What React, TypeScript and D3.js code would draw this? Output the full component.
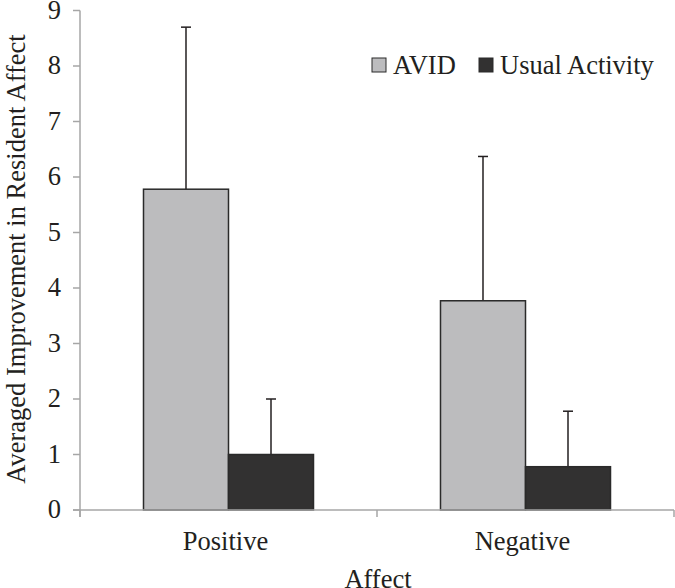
import * as d3 from "d3"

const categories = ["Positive", "Negative"]
const series = ["AVID", "Usual Activity"]
const avidMeans = [5.78, 3.77]
const avidErr = [2.92, 2.6]
const usualMeans = [1.0, 0.78]
const usualErr = [1.0, 1.0]
const yTicks = [0, 1, 2, 3, 4, 5, 6, 7, 8, 9]

const W = 675
const H = 588
const FONT = "'Liberation Serif', 'DejaVu Serif', serif"
const FS = 26.5
const colors = ["#bcbcbe", "#323131"]

export default function App() {
  const x0 = 80
  const x1 = 674
  const yTop = 10.5
  const yBot = 510

  const x = d3.scaleBand().domain(categories).range([x0, x1])
  const xs = d3.scaleBand().domain(series).range([0, x.bandwidth()]).paddingInner(0).paddingOuter(0.747)
  const y = d3.scaleLinear().domain([0, 9]).range([yBot, yTop])

  const bars = categories.flatMap((c, i) => [
    { cat: c, s: series[0], v: avidMeans[i], e: avidErr[i], fill: colors[0] },
    { cat: c, s: series[1], v: usualMeans[i], e: usualErr[i], fill: colors[1] },
  ])

  return (
    <div style={{ position: "fixed", left: 0, top: 0 }}>
      <svg width={W} height={H} style={{ display: "block" }}>
        <rect width={W} height={H} fill="#fff" />
        {/* y axis */}
        <line x1={x0} x2={x0} y1={yTop} y2={yBot + 7} stroke="#a6a6a6" strokeWidth={1.5} />
        {yTicks.map((t) => (
          <g key={t}>
            <line x1={x0 - 7} x2={x0} y1={y(t)} y2={y(t)} stroke="#a6a6a6" strokeWidth={1.5} />
            <text
              x={61}
              y={y(t) + 8}
              textAnchor="end"
              fontSize={FS}
              fontFamily={FONT}
              fill="#231f20"
            >
              {t}
            </text>
          </g>
        ))}
        {/* bars */}
        {bars.map((b) => {
          const bx = (x(b.cat) || 0) + (xs(b.s) || 0)
          const cx = bx + xs.bandwidth() / 2
          return (
            <g key={b.cat + b.s}>
              <line x1={cx} x2={cx} y1={y(b.v)} y2={y(b.v + b.e)} stroke="#231f20" strokeWidth={1.5} />
              <line x1={cx - 5} x2={cx + 5} y1={y(b.v + b.e)} y2={y(b.v + b.e)} stroke="#231f20" strokeWidth={1.5} />
              <rect
                x={bx}
                y={y(b.v)}
                width={xs.bandwidth()}
                height={yBot - y(b.v)}
                fill={b.fill}
                stroke="#2a2a2a"
                strokeWidth={1.5}
              />
            </g>
          )
        })}
        {/* x axis */}
        <line x1={x0 - 7} x2={x1} y1={yBot} y2={yBot} stroke="#a6a6a6" strokeWidth={1.5} />
        {[...categories.map((c) => x(c) || 0), x1].map((px, i) => (
          <line key={i} x1={px} x2={px} y1={yBot} y2={yBot + 7} stroke="#a6a6a6" strokeWidth={1.5} />
        ))}
        {categories.map((c) => (
          <text
            key={c}
            x={(x(c) || 0) + x.bandwidth() / 2 - 3}
            y={550}
            textAnchor="middle"
            fontSize={FS}
            fontFamily={FONT}
            fill="#231f20"
          >
            {c}
          </text>
        ))}
        <text x={378} y={588} textAnchor="middle" fontSize={FS} fontFamily={FONT} fill="#231f20">
          Affect
        </text>
        <text
          transform={`translate(25, ${259}) rotate(-90)`}
          textAnchor="middle"
          fontSize={FS}
          fontFamily={FONT}
          fill="#231f20"
        >
          Averaged Improvement in Resident Affect
        </text>
        {/* legend */}
        {series.map((s, i) => {
          const lx = [372, 479][i]
          return (
            <g key={s}>
              <rect x={lx} y={58} width={14} height={14} fill={colors[i]} stroke="#2a2a2a" strokeWidth={1} />
              <text x={lx + 21} y={74} fontSize={FS} fontFamily={FONT} fill="#231f20">
                {s}
              </text>
            </g>
          )
        })}
      </svg>
    </div>
  )
}
